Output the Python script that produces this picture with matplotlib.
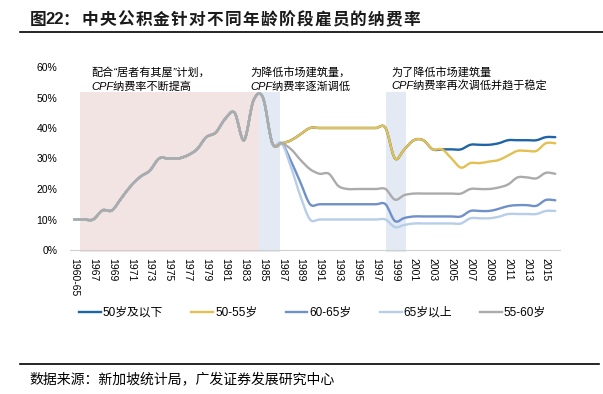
import matplotlib
matplotlib.use('Agg')
import matplotlib.pyplot as plt
import numpy as np
from matplotlib.path import Path
from matplotlib.patches import PathPatch, Rectangle
from matplotlib.lines import Line2D

plt.rcParams['font.family'] = ['Liberation Sans', 'Noto Sans CJK SC']
plt.rcParams['axes.unicode_minus'] = False

years = ['1960-65'] + [str(y) for y in range(1966, 2017)]

# 1960-65 .. 1987, identical for every age group
early = [10, 10, 10, 13, 13, 17, 21, 24, 26, 30, 30, 30, 31, 33, 37, 38.5, 43, 45, 36, 49, 50, 35, 35]

# 1988 .. 2016
below50 = [36, 38, 40, 40, 40, 40, 40, 40, 40, 40, 40,
           30, 33, 36, 36, 33, 33, 33, 33, 34.5, 34.5, 34.5, 35, 36, 36, 36, 36, 37, 37]
age50_55 = [36, 38, 40, 40, 40, 40, 40, 40, 40, 40, 40,
            30, 33, 36, 36, 33, 33, 30, 27, 28.5, 28.5, 29, 29.5, 31, 32.5, 32.5, 32.5, 35, 35]
age60_65 = [29, 22, 15, 15, 15, 15, 15, 15, 15, 15, 15,
            9.5, 10.5, 11, 11, 11, 11, 11, 11, 12.8, 12.8, 12.8, 13.5, 14.4, 14.7, 14.7, 14.5, 16.4, 16.3]
above65 = [27, 17.5, 10, 10, 10, 10, 10, 10, 10, 10, 10,
           7.5, 8.2, 8.7, 8.7, 8.7, 8.7, 8.7, 8.7, 10.4, 10.4, 10.4, 10.9, 11.8, 11.8, 11.8, 11.8, 12.8, 12.8]
age55_60 = [33, 29.5, 26.5, 25, 25, 21, 20, 20, 20, 20, 20,
            16.5, 18, 18.5, 18.5, 18.5, 18.5, 18.5, 18.5, 20, 20, 20, 20.5, 21.5, 23.8, 23.8, 23.5, 25.3, 25]

series = [
    ('50岁及以下', below50, '#1E64A6'),
    ('50-55岁', age50_55, '#E2C052'),
    ('60-65岁', age60_65, '#6F90C8'),
    ('65岁以上', above65, '#B7CDE8'),
    ('55-60岁', age55_60, '#ABABAB'),
]

title_head = ['图', '22', '：']
title_body = '中央公积金针对不同年龄阶段雇员的纳费率'


def smooth_path(xs, ys):
    pts = np.column_stack([xs, ys]).astype(float)
    n = len(pts)
    verts = [pts[0]]
    codes = [Path.MOVETO]
    for i in range(n - 1):
        p0 = pts[i - 1] if i > 0 else pts[i]
        p1 = pts[i]
        p2 = pts[i + 1]
        p3 = pts[i + 2] if i + 2 < n else pts[i + 1]
        verts += [p1 + (p2 - p0) / 6, p2 - (p3 - p1) / 6, p2]
        codes += [Path.CURVE4] * 3
    return Path(verts, codes)


W, H = 603, 394
fig = plt.figure(figsize=(W / 100, H / 100), dpi=100)
ax = fig.add_axes([70 / W, 1 - 250 / H, 490 / W, 183 / H])

x = np.arange(len(years))
ax.set_xlim(-0.45, 51.5)
ax.set_ylim(0, 60)

# shaded periods
ax.add_patch(Rectangle((0.64, -0.8), 19.0, 52.6, facecolor='#F3E4E4', edgecolor='none', zorder=0, clip_on=False))
ax.add_patch(Rectangle((19.64, -0.8), 2.2, 52.6, facecolor='#E4EAF4', edgecolor='none', zorder=0, clip_on=False))
ax.add_patch(Rectangle((33.1, -0.8), 2.1, 52.6, facecolor='#E4EAF4', edgecolor='none', zorder=0, clip_on=False))

handles = []
for name, tail, col in series:
    vals = early + tail
    ax.add_patch(PathPatch(smooth_path(x, vals), fill=False, edgecolor=col, lw=1.7,
                           capstyle='round', joinstyle='round', zorder=3))
    handles.append(Line2D([], [], color=col, lw=1.7, label=name))

for s in ['top', 'right', 'left']:
    ax.spines[s].set_visible(False)
ax.spines['bottom'].set_color('#D0D0D0')
ax.spines['bottom'].set_zorder(1)

ax.set_yticks(range(0, 61, 10))
ax.set_yticklabels(['%d%%' % v for v in range(0, 61, 10)], fontsize=7.5)
ax.set_xticks(x[::2])
ax.set_xticklabels(years[::2], rotation=270, fontsize=7.5, ha='center', va='top')
ax.tick_params(axis='both', length=0)
ax.tick_params(axis='y', pad=9)
ax.tick_params(axis='x', pad=6)

fig.legend(handles=handles, loc='center left', bbox_to_anchor=(79 / W, 1 - 313 / H),
           ncol=5, frameon=False, fontsize=8.5, handlelength=1.86, handletextpad=0.15,
           columnspacing=2.4, borderpad=0, borderaxespad=0)

# annotations
fs = 8
fig.text(91 / W, 1 - 72 / H, '配合“居者有其屋”计划，', fontsize=fs, style='italic', va='center')
fig.text(91 / W, 1 - 86.5 / H, 'CPF纳费率不断提高', fontsize=fs, style='italic', va='center')
fig.text(250 / W, 1 - 72 / H, '为降低市场建筑量，', fontsize=fs, style='italic', va='center')
fig.text(250 / W, 1 - 86.5 / H, 'CPF纳费率逐渐调低', fontsize=fs, style='italic', va='center')
fig.text(391 / W, 1 - 72 / H, '为了降低市场建筑量', fontsize=fs, style='italic', va='center')
fig.text(391 / W, 1 - 86.5 / H, 'CPF纳费率再次调低并趋于稳定', fontsize=fs, style='italic', va='center')

# title, spaced out like the original
title_kw = dict(fontsize=12, fontweight='bold', va='center', color='#1a1a1a')
for s, px in zip(title_head, [30, 45, 62]):
    fig.text(px / W, 1 - 20 / H, s, **title_kw)
for i, ch in enumerate(title_body):
    fig.text((81.5 + 17.9 * i) / W, 1 - 20 / H, ch, **title_kw)

fig.add_artist(Line2D([20 / W, 1], [1 - 32 / H] * 2, color='black', lw=1.2))
fig.add_artist(Line2D([20 / W, 599 / W], [1 - 364 / H] * 2, color='black', lw=1.2))
fig.text(29 / W, 1 - 379 / H, '数据来源：新加坡统计局，广发证券发展研究中心', fontsize=10, va='center')

fig.savefig('out.png', dpi=100)
